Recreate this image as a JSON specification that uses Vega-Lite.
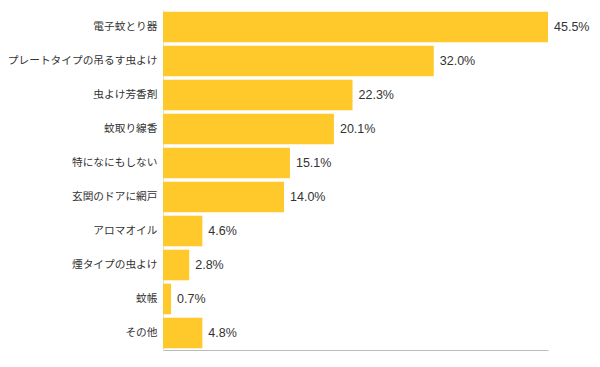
{
  "$schema": "https://vega.github.io/schema/vega-lite/v6.json",
  "autosize": {"type": "none"},
  "width": 385,
  "height": 340,
  "padding": {"left": 163, "top": 10, "right": 52, "bottom": 17},
  "background": "white",
  "config": {
    "view": {"stroke": null},
    "font": "Noto Sans CJK JP"
  },
  "data": {
    "values": [
      {"item": "電子蚊とり器", "value": 45.5, "label": "45.5%"},
      {"item": "プレートタイプの吊るす虫よけ", "value": 32.0, "label": "32.0%"},
      {"item": "虫よけ芳香剤", "value": 22.4, "label": "22.3%"},
      {"item": "蚊取り線香", "value": 20.2, "label": "20.1%"},
      {"item": "特になにもしない", "value": 15.0, "label": "15.1%"},
      {"item": "玄関のドアに網戸", "value": 14.3, "label": "14.0%"},
      {"item": "アロマオイル", "value": 4.65, "label": "4.6%"},
      {"item": "煙タイプの虫よけ", "value": 3.1, "label": "2.8%"},
      {"item": "蚊帳", "value": 0.95, "label": "0.7%"},
      {"item": "その他", "value": 4.65, "label": "4.8%"}
    ]
  },
  "encoding": {
    "y": {
      "field": "item",
      "type": "nominal",
      "sort": null,
      "scale": {"paddingInner": 0.1, "paddingOuter": 0.05},
      "axis": {
        "title": null,
        "ticks": false,
        "domainColor": "#dddddd",
        "labelPadding": 6,
        "labelFontSize": 10.7,
        "labelColor": "#333333",
        "labelFont": "Noto Sans CJK JP"
      }
    },
    "x": {
      "field": "value",
      "type": "quantitative",
      "scale": {"domain": [0, 45.5], "nice": false},
      "axis": {
        "title": null,
        "labels": false,
        "ticks": false,
        "grid": false,
        "domainColor": "#bbbbbb"
      }
    }
  },
  "layer": [
    {"mark": {"type": "bar", "color": "#FFC92C"}},
    {
      "mark": {"type": "text", "align": "left", "dx": 6, "fontSize": 12.5, "color": "#333333", "font": "Liberation Sans"},
      "encoding": {"text": {"field": "label"}}
    }
  ]
}
